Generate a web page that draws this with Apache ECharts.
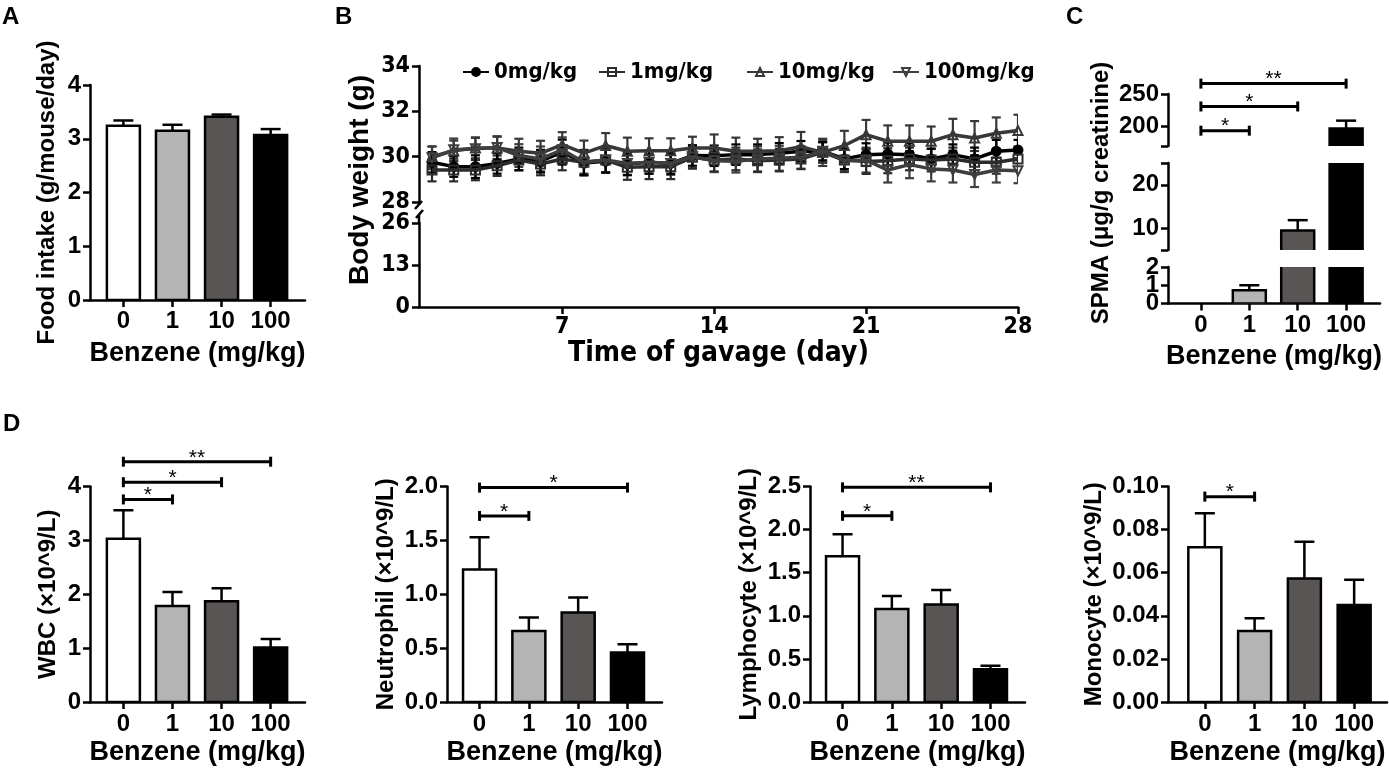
<!DOCTYPE html>
<html>
<head>
<meta charset="UTF-8">
<title>Benzene exposure in mice</title>
<script src="https://cdn.jsdelivr.net/npm/echarts@6.0.0/dist/echarts.min.js"></script>
<style>
html, body { margin: 0; padding: 0; background: #fff; }
#main { width: 1389px; height: 769px; }
</style>
</head>
<body>
<div id="main"></div>
<script>
// ---- data ----
var doses = ['0', '1', '10', '100'];

// A: food intake (g/mouse/day)
var foodMean = [3.24, 3.15, 3.41, 3.07];
var foodErr = [0.10, 0.11, 0.04, 0.11];

// B: body weight (g), days 1..28
var days = [1, 2, 3, 4, 5, 6, 7, 8, 9, 10, 11, 12, 13, 14, 15, 16, 17, 18, 19, 20, 21, 22, 23, 24, 25, 26, 27, 28];
var bwNames = ['0mg/kg', '1mg/kg', '10mg/kg', '100mg/kg'];
var bw0 = [29.75, 29.56, 29.56, 29.7, 29.9, 29.8, 30.2, 29.72, 29.8, 29.68, 29.75, 29.7, 30.05, 30.04, 30.09, 30.09, 30.15, 30.24, 30.24, 29.9, 30.09, 30.12, 30.09, 29.9, 30.09, 29.9, 30.24, 30.29];
var bw1 = [29.41, 29.41, 29.41, 29.6, 29.85, 29.68, 29.9, 29.75, 29.85, 29.53, 29.56, 29.56, 29.97, 29.85, 29.9, 29.82, 29.85, 29.9, 30.19, 29.85, 29.79, 29.82, 29.9, 29.85, 29.9, 29.75, 29.75, 29.9];
var bw10 = [30.0, 30.26, 30.38, 30.38, 30.24, 30.15, 30.53, 30.16, 30.49, 30.24, 30.26, 30.26, 30.38, 30.38, 30.24, 30.24, 30.26, 30.44, 30.19, 30.49, 30.97, 30.68, 30.68, 30.68, 30.97, 30.82, 31.03, 31.15];
var bw100 = [29.95, 30.3, 30.35, 30.4, 30.05, 29.9, 30.3, 29.75, 29.85, 29.7, 29.75, 29.7, 30.0, 29.82, 29.8, 29.9, 29.93, 29.97, 30.24, 29.82, 29.85, 29.41, 29.65, 29.46, 29.41, 29.21, 29.41, 29.38];
var bwErr0 = [0.45, 0.45, 0.5, 0.45, 0.5, 0.5, 0.55, 0.55, 0.5, 0.5, 0.5, 0.45, 0.45, 0.45, 0.45, 0.45, 0.45, 0.45, 0.4, 0.45, 0.5, 0.5, 0.5, 0.45, 0.45, 0.5, 0.5, 0.45];
var bwErr1 = [0.5, 0.5, 0.45, 0.45, 0.45, 0.5, 0.5, 0.5, 0.55, 0.55, 0.55, 0.55, 0.5, 0.5, 0.5, 0.5, 0.5, 0.45, 0.45, 0.5, 0.55, 0.55, 0.5, 0.5, 0.5, 0.5, 0.5, 0.5];
var bwErr10 = [0.45, 0.45, 0.45, 0.5, 0.55, 0.55, 0.55, 0.55, 0.55, 0.6, 0.55, 0.55, 0.5, 0.6, 0.6, 0.55, 0.6, 0.65, 0.6, 0.65, 0.65, 0.7, 0.7, 0.65, 0.7, 0.75, 0.7, 0.7];
var bwErr100 = [0.5, 0.5, 0.5, 0.5, 0.5, 0.55, 0.55, 0.55, 0.55, 0.5, 0.5, 0.5, 0.5, 0.5, 0.5, 0.55, 0.55, 0.5, 0.5, 0.5, 0.55, 0.55, 0.6, 0.55, 0.55, 0.55, 0.55, 0.55];

// C: SPMA (ug/g creatinine)
var spmaMean = [0, 0.73, 9.46, 197];
var spmaErr = [0, 0.27, 2.4, 12];
var spmaSig = [[0, 1, 193.6], [0, 2, 230.8], [0, 3, 266]];
var spmaStars = ['*', '*', '**'];

// D: blood counts (x10^9/L)
var wbcMean = [3.03, 1.78, 1.87, 1.01];
var wbcErr = [0.53, 0.26, 0.24, 0.16];
var wbcSig = [[0, 1, 3.76], [0, 2, 4.08], [0, 3, 4.46]];
var wbcStars = ['*', '*', '**'];

var neuMean = [1.23, 0.66, 0.83, 0.46];
var neuErr = [0.30, 0.125, 0.14, 0.075];
var neuSig = [[0, 1, 1.727], [0, 3, 1.99]];
var neuStars = ['*', '*'];

var lymMean = [1.69, 1.08, 1.13, 0.38];
var lymErr = [0.255, 0.15, 0.17, 0.04];
var lymSig = [[0, 1, 2.16], [0, 3, 2.49]];
var lymStars = ['*', '**'];

var monMean = [0.0718, 0.033, 0.0573, 0.045];
var monErr = [0.0158, 0.0059, 0.0171, 0.0117];
var monSig = [[0, 1, 0.0953]];
var monStars = ['*'];

// ---- styling ----
var FONT = '"Liberation Sans", Arial, Helvetica, sans-serif';
var NARROW = '"Liberation Sans Narrow", "Arial Narrow", "DejaVu Sans Condensed", "Liberation Sans", sans-serif';
var groupColors = ['#ffffff', '#b4b4b4', '#595555', '#000000'];
var lineColors = ['#000000', '#2c2c2c', '#383838', '#3e3e3e'];
var BAR_W = 33;
var AXW = 2.5;

function txt(size, family) {
  return { color: '#000', fontWeight: 'bold', fontSize: size, fontFamily: family || FONT };
}

var myChart = echarts.init(document.getElementById('main'));

// grids (pixel layout of each panel)
var grids = [
  { left: 90, top: 85, width: 215, height: 215 },          // 0 A
  { left: 419, top: 66, width: 599, height: 136 },         // 1 B upper
  { left: 419, top: 223, width: 599, height: 84 },         // 2 B lower
  { left: 1168, top: 94, width: 212, height: 52 },         // 3 C top
  { left: 1168, top: 163, width: 212, height: 87 },        // 4 C mid
  { left: 1168, top: 267, width: 212, height: 36.5 },      // 5 C bottom
  { left: 90, top: 486.5, width: 215, height: 215.5 },     // 6 D WBC
  { left: 447, top: 486.5, width: 215, height: 215.5 },    // 7 D neutrophil
  { left: 810, top: 486.5, width: 215, height: 215.5 },    // 8 D lymphocyte
  { left: 1168, top: 486.5, width: 219, height: 215.5 }    // 9 D monocyte
];

function doseX(grid, min, max, show, nameGap, labelMargin) {
  return {
    type: 'value', gridIndex: grid, min: min, max: max, show: show,
    axisLine: { show: true, onZero: false, lineStyle: { color: '#000', width: AXW } },
    axisTick: { show: true, customValues: [0, 1, 2, 3], length: 7, lineStyle: { color: '#000', width: AXW } },
    axisLabel: Object.assign({ show: true, customValues: [0, 1, 2, 3], margin: labelMargin,
      showMinLabel: true, showMaxLabel: true, hideOverlap: false,
      formatter: function (v) { return doses[Math.round(v)]; } }, txt(24)),
    splitLine: { show: false },
    name: 'Benzene (mg/kg)', nameLocation: 'middle', nameGap: nameGap, nameTextStyle: txt(27)
  };
}

function valY(grid, min, max, o) {
  var ax = {
    type: 'value', gridIndex: grid, min: min, max: max, position: 'left',
    axisLine: { show: true, onZero: false, lineStyle: { color: '#000', width: AXW } },
    axisTick: { show: true, length: 7, lineStyle: { color: '#000', width: AXW } },
    axisLabel: Object.assign({ margin: 9, showMinLabel: true, showMaxLabel: true, hideOverlap: false },
      txt(o.size || 24, o.family)),
    splitLine: { show: false }
  };
  if (o.interval) ax.interval = o.interval;
  if (o.ticks) ax.axisTick.customValues = o.ticks;
  if (o.labels) ax.axisLabel.customValues = o.labels;
  if (o.bare) { ax.axisLine.show = false; ax.axisTick.show = false; }
  if (o.digits != null) ax.axisLabel.formatter = function (v) { return v.toFixed(o.digits); };
  if (o.name) {
    ax.name = o.name; ax.nameLocation = 'middle'; ax.nameGap = o.nameGap;
    ax.nameTextStyle = txt(o.nameSize || 24);
  }
  return ax;
}

function barSeries(grid, means) {
  return {
    type: 'custom', xAxisIndex: grid, yAxisIndex: grid, clip: true, z: 3,
    data: means.map(function (v, i) { return [i, v]; }),
    renderItem: function (params, api) {
      var v = api.value(1);
      if (!(v > 0)) return null;
      var p0 = api.coord([api.value(0), 0]);
      var p1 = api.coord([api.value(0), v]);
      return {
        type: 'rect',
        shape: { x: p0[0] - BAR_W / 2, y: p1[1], width: BAR_W, height: p0[1] - p1[1] },
        style: { fill: groupColors[params.dataIndex], stroke: '#000', lineWidth: AXW }
      };
    }
  };
}

function errSeries(grid, means, errs, both, cap, color, width, z) {
  return {
    type: 'custom', xAxisIndex: grid, yAxisIndex: grid, clip: true, z: z || 2,
    data: means.map(function (v, i) { return [i, v, errs[i]]; }),
    renderItem: function (params, api) {
      var x = api.value(0), m = api.value(1), e = api.value(2);
      if (!(e > 0)) return null;
      var top = api.coord([x, m + e]);
      var bot = api.coord([x, both ? m - e : m]);
      var st = { stroke: color || '#000', lineWidth: width || AXW };
      var kids = [
        { type: 'line', shape: { x1: top[0], y1: top[1], x2: bot[0], y2: bot[1] }, style: st },
        { type: 'line', shape: { x1: top[0] - cap, y1: top[1], x2: top[0] + cap, y2: top[1] }, style: st }
      ];
      if (both) kids.push({ type: 'line', shape: { x1: bot[0] - cap, y1: bot[1], x2: bot[0] + cap, y2: bot[1] }, style: st });
      return { type: 'group', children: kids };
    }
  };
}

function sigSeries(grid, sig, stars) {
  return {
    type: 'custom', xAxisIndex: grid, yAxisIndex: grid, clip: false, z: 4,
    data: sig,
    renderItem: function (params, api) {
      var a = api.coord([api.value(0), api.value(2)]);
      var b = api.coord([api.value(1), api.value(2)]);
      var st = { stroke: '#000', lineWidth: 3 };
      return {
        type: 'group', children: [
          { type: 'line', shape: { x1: a[0], y1: a[1], x2: b[0], y2: b[1] }, style: st },
          { type: 'line', shape: { x1: a[0], y1: a[1] - 5, x2: a[0], y2: a[1] + 5 }, style: st },
          { type: 'line', shape: { x1: b[0], y1: b[1] - 5, x2: b[0], y2: b[1] + 5 }, style: st },
          { type: 'text', x: (a[0] + b[0]) / 2, y: a[1] - 4,
            style: { text: stars[params.dataIndex], fontSize: 21, fontFamily: FONT, fill: '#000',
              align: 'center', verticalAlign: 'middle' } }
        ]
      };
    }
  };
}

function bwSeries(k, data, symbol, rotate, hollow) {
  return {
    name: bwNames[k], type: 'line', xAxisIndex: 1, yAxisIndex: 1, z: 3 + k * 0.1,
    data: days.map(function (d, i) { return [d, data[i]]; }),
    symbol: symbol, symbolRotate: rotate, symbolSize: 9,
    lineStyle: { color: lineColors[k], width: 3.5 },
    itemStyle: { color: hollow ? 'rgba(255,255,255,0)' : lineColors[k], borderColor: lineColors[k], borderWidth: 2 }
  };
}

function bwErr(k, data, errs) {
  var s = errSeries(1, data, errs, true, 4.5, lineColors[k], 2.2, 2);
  s.data = days.map(function (d, i) { return [d, data[i], errs[i]]; });
  return s;
}

var xAxes = [
  doseX(0, -0.68, 3.7, true, 40, 9),
  { type: 'value', gridIndex: 1, min: 0.4, max: 28, show: false },
  {
    type: 'value', gridIndex: 2, min: 0.4, max: 28,
    axisLine: { show: true, onZero: false, lineStyle: { color: '#000', width: AXW } },
    axisTick: { show: true, customValues: [7, 14, 21, 28], length: 7, lineStyle: { color: '#000', width: AXW } },
    axisLabel: Object.assign({ customValues: [7, 14, 21, 28], margin: 9 }, txt(23, NARROW)),
    splitLine: { show: false },
    name: 'Time of gavage (day)', nameLocation: 'middle', nameGap: 33, nameTextStyle: txt(28, NARROW)
  },
  doseX(3, -0.68, 3.7, false, 40, 10),
  doseX(4, -0.68, 3.7, false, 40, 10),
  doseX(5, -0.68, 3.7, true, 40, 10),
  doseX(6, -0.68, 3.7, true, 37, 10),
  doseX(7, -0.66, 3.7, true, 37, 10),
  doseX(8, -0.66, 3.7, true, 37, 10),
  doseX(9, -0.74, 3.66, true, 37, 10)
];

var yAxes = [
  valY(0, 0, 4, { interval: 1, name: 'Food intake (g/mouse/day)', nameGap: 31 }),
  valY(1, 28, 34, { interval: 2, family: NARROW, size: 23 }),
  valY(2, 0, 26, { interval: 13, family: NARROW, size: 23 }),
  valY(3, 170, 250, { ticks: [170, 200, 250], labels: [200, 250] }),
  valY(4, 5, 25, { ticks: [5, 10, 20, 25], labels: [10, 20] }),
  valY(5, 0, 2, { ticks: [0, 1, 2], labels: [0, 2] }),
  valY(6, 0, 4, { interval: 1, name: 'WBC (×10^9/L)', nameGap: 30 }),
  valY(7, 0, 2, { interval: 0.5, digits: 1, name: 'Neutrophil (×10^9/L)', nameGap: 49 }),
  valY(8, 0, 2.5, { interval: 0.5, digits: 1, name: 'Lymphocyte (×10^9/L)', nameGap: 49 }),
  valY(9, 0, 0.1, { interval: 0.02, digits: 2, name: 'Monocyte (×10^9/L)', nameGap: 62 }),
  // middle label of C's lowest segment, on its own so it is not dropped as an overlap
  valY(5, 0, 2, { ticks: [1], labels: [1], bare: true })
];

var series = [
  // A
  errSeries(0, foodMean, foodErr, false, 10), barSeries(0, foodMean),
  // B
  bwErr(3, bw100, bwErr100), bwErr(2, bw10, bwErr10), bwErr(1, bw1, bwErr1), bwErr(0, bw0, bwErr0),
  bwSeries(3, bw100, 'triangle', 180, true),
  bwSeries(2, bw10, 'triangle', 0, true),
  bwSeries(1, bw1, 'rect', 0, true),
  bwSeries(0, bw0, 'circle', 0, false),
  // C (three axis segments)
  barSeries(3, spmaMean), barSeries(4, spmaMean), barSeries(5, spmaMean),
  errSeries(3, spmaMean, spmaErr, false, 10), errSeries(4, spmaMean, spmaErr, false, 10), errSeries(5, spmaMean, spmaErr, false, 10),
  sigSeries(3, spmaSig, spmaStars),
  // D
  errSeries(6, wbcMean, wbcErr, false, 10), barSeries(6, wbcMean), sigSeries(6, wbcSig, wbcStars),
  errSeries(7, neuMean, neuErr, false, 10), barSeries(7, neuMean), sigSeries(7, neuSig, neuStars),
  errSeries(8, lymMean, lymErr, false, 10), barSeries(8, lymMean), sigSeries(8, lymSig, lymStars),
  errSeries(9, monMean, monErr, false, 10), barSeries(9, monMean), sigSeries(9, monSig, monStars)
];

var legendLeft = [462, 598, 746, 892];
var legends = bwNames.map(function (n, i) {
  return {
    data: [n], left: legendLeft[i], top: 61, padding: 0, itemWidth: 26, itemHeight: 10, itemGap: 0,
    selectedMode: false, textStyle: txt(22, NARROW)
  };
});

function letter(t, x, y) {
  return { type: 'text', left: x, top: y, style: { text: t, fontSize: 24, fontWeight: 'bold', fontFamily: FONT, fill: '#000' } };
}
function vText(t, x, y, size) {
  return {
    type: 'text', x: x, y: y, rotation: Math.PI / 2,
    style: { text: t, fontSize: size, fontWeight: 'bold', fontFamily: FONT, fill: '#000', align: 'center', verticalAlign: 'middle' }
  };
}

// broken-axis marks on B
var bx = grids[1].left, bUpEnd = grids[1].top + grids[1].height, bLowTop = grids[2].top;
var brk = { stroke: '#000', lineWidth: AXW };

var option = {
  animation: false,
  backgroundColor: '#fff',
  grid: grids,
  xAxis: xAxes,
  yAxis: yAxes,
  legend: legends,
  series: series,
  graphic: [
    letter('A', 2, 5), letter('B', 335, 5), letter('C', 1066, 5), letter('D', 3, 412),
    vText('Body weight (g)', 360, 180, 28),
    vText('SPMA (μg/g creatinine)', 1101, 193, 24),
    { type: 'line', shape: { x1: bx, y1: bUpEnd, x2: bx, y2: bUpEnd + 3 }, style: brk },
    { type: 'line', shape: { x1: bx - 4, y1: bUpEnd + 7, x2: bx + 3, y2: bUpEnd - 1 }, style: brk },
    { type: 'line', shape: { x1: bx, y1: bLowTop - 9, x2: bx, y2: bLowTop }, style: brk },
    { type: 'line', shape: { x1: bx - 3, y1: bLowTop - 5, x2: bx + 4, y2: bLowTop - 13 }, style: brk }
  ]
};

myChart.setOption(option);
</script>
</body>
</html>
